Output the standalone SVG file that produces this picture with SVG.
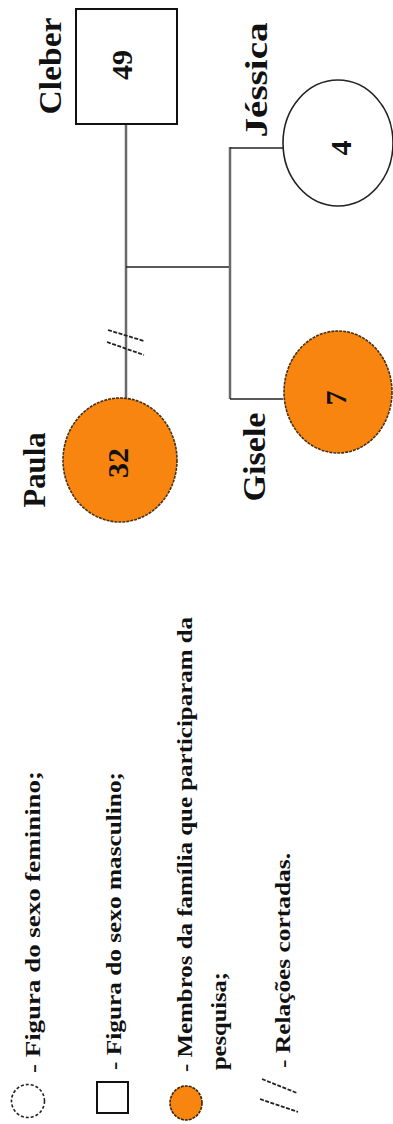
<svg xmlns="http://www.w3.org/2000/svg" width="393" height="1124" viewBox="0 0 393 1124">
<style>
.name{font-family:"Liberation Serif","Times New Roman",serif;font-weight:bold;font-size:31px;fill:#111;text-anchor:middle}
.num{font-family:"Liberation Serif","Times New Roman",serif;font-weight:bold;font-size:30px;fill:#111;text-anchor:middle}
.leg{font-family:"Liberation Serif","Times New Roman",serif;font-weight:bold;font-size:21px;fill:#111}
.vline{stroke:#6a6a6a;stroke-width:2.5;fill:none}
.hline{stroke:#222;stroke-width:1.6;fill:none}
.female{fill:#fff;stroke:#222;stroke-width:1.6}
.part{fill:#F7850F;stroke:#4a3010;stroke-width:1.6;stroke-dasharray:3 1}
.male{fill:#fff;stroke:#111;stroke-width:2}
.cut{stroke:#222;stroke-width:1.8;stroke-dasharray:4 1.5;fill:none}
</style>
<rect width="393" height="1124" fill="#fff"/>
<g id="connectors">
<line class="vline" x1="126" y1="124" x2="126" y2="399"/>
<line class="hline" x1="126" y1="267" x2="230" y2="267"/>
<line class="vline" x1="230" y1="147" x2="230" y2="399"/>
<line class="hline" x1="230" y1="148" x2="283" y2="148"/>
<line class="hline" x1="230" y1="399" x2="283" y2="399"/>
<line class="cut" x1="108" y1="330" x2="144" y2="341"/>
<line class="cut" x1="107" y1="342" x2="144" y2="355"/>
</g>
<g id="cleber">
<rect class="male" x="76" y="9" width="101" height="115"/>
<text class="name" transform="translate(61,66) rotate(-90)" textLength="97" lengthAdjust="spacingAndGlyphs">Cleber</text>
<text class="num" transform="translate(132,65) rotate(-90)">49</text>
</g>
<g id="jessica">
<ellipse class="female" cx="338" cy="143" rx="55" ry="63"/>
<text class="name" transform="translate(267,80) rotate(-90)" textLength="115" lengthAdjust="spacingAndGlyphs">Jéssica</text>
<text class="num" transform="translate(351,148) rotate(-90)">4</text>
</g>
<g id="paula">
<ellipse class="part" cx="120" cy="460" rx="57" ry="62"/>
<text class="name" transform="translate(45,470) rotate(-90)" textLength="75" lengthAdjust="spacingAndGlyphs">Paula</text>
<text class="num" transform="translate(128,463) rotate(-90)">32</text>
</g>
<g id="gisele">
<ellipse class="part" cx="338" cy="392" rx="54" ry="61"/>
<text class="name" transform="translate(265,457) rotate(-90)" textLength="89" lengthAdjust="spacingAndGlyphs">Gisele</text>
<text class="num" transform="translate(346,398) rotate(-90)">7</text>
</g>
<g id="legend">
<circle cx="28" cy="1101" r="16.5" fill="#fff" stroke="#222" stroke-width="1.6" stroke-dasharray="3 2"/>
<text class="leg" transform="translate(40,1073) rotate(-90)" textLength="302" lengthAdjust="spacingAndGlyphs">- Figura do sexo feminino;</text>
<rect x="97" y="1082" width="31" height="31" fill="#fff" stroke="#111" stroke-width="2"/>
<text class="leg" transform="translate(121,1070) rotate(-90)" textLength="298" lengthAdjust="spacingAndGlyphs">- Figura do sexo masculino;</text>
<ellipse cx="186" cy="1103" rx="16" ry="17" fill="#F7850F" stroke="#3a2508" stroke-width="1.6" stroke-dasharray="3 1"/>
<text class="leg" transform="translate(192,1072) rotate(-90)" textLength="455" lengthAdjust="spacingAndGlyphs">- Membros da família que participaram da</text>
<text class="leg" transform="translate(226,1070) rotate(-90)" textLength="98" lengthAdjust="spacingAndGlyphs">pesquisa;</text>
<line class="cut" x1="262" y1="1079" x2="297" y2="1093"/>
<line class="cut" x1="260" y1="1099" x2="298" y2="1112"/>
<text class="leg" transform="translate(290,1068) rotate(-90)" textLength="215" lengthAdjust="spacingAndGlyphs">- Relações cortadas.</text>
</g>
</svg>
